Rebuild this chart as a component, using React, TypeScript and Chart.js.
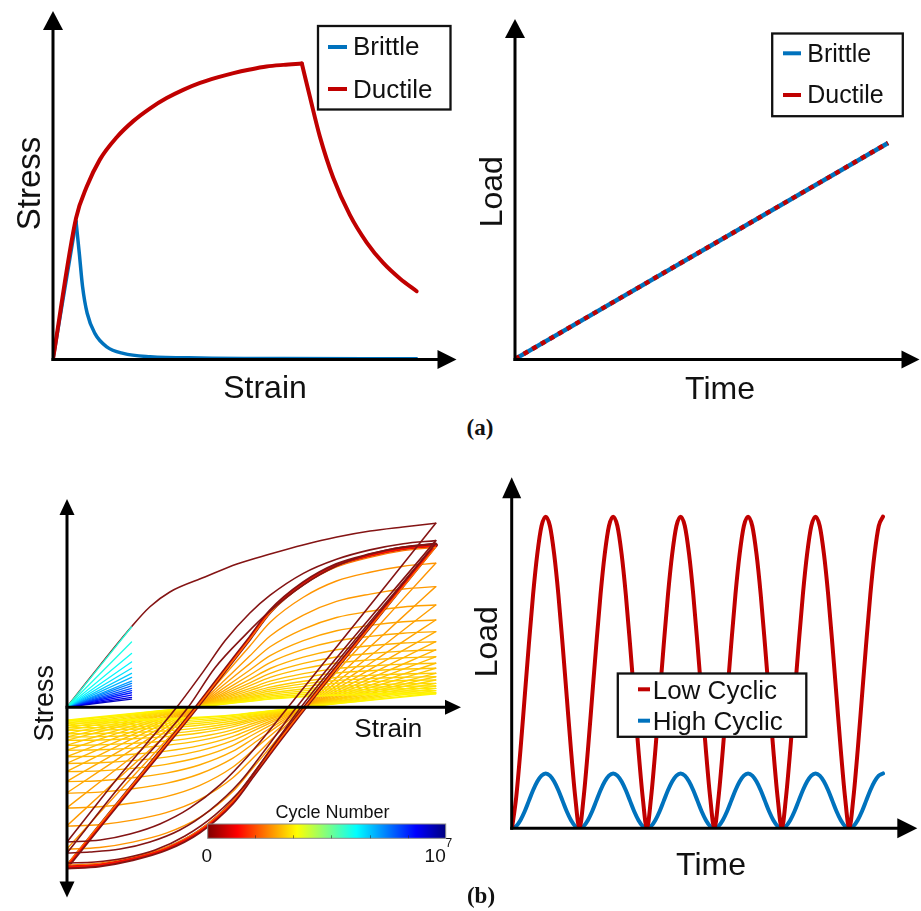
import React, { useEffect, useRef } from "react";
import { Chart, registerables } from "chart.js";

Chart.register(...registerables);

const SANS = '"Liberation Sans", Arial, Helvetica, sans-serif';
const SERIF = '"Liberation Serif", "Times New Roman", serif';
const RED = "#C00000";
const BLUE = "#0072BD";
const DARK_RED = "rgb(132,20,20)";

/* ---------------- (a) left : stress vs strain ---------------- */
const ductileStrain = [0, 6.0, 8.8, 12.2, 16.6, 20.9, 25.3, 29.6, 33.9, 38.3, 42.6, 47.0, 51.3, 55.6, 60.0, 64.8, 66.9, 69.5, 73.0, 77.3, 81.7, 86.0, 90.4, 94.7];
const ductileStress = [0, 42.8, 52.4, 60.6, 67.4, 72.3, 76.2, 79.3, 81.8, 83.9, 85.5, 86.9, 88.0, 88.9, 89.4, 89.8, 79.7, 67.6, 55.0, 43.8, 35.4, 29.2, 24.4, 20.6];
const ductileUltimateIndex = 15;
const brittleStrain = [0, 6.0, 6.85, 7.7, 8.9, 10.9, 14.0, 18.3, 25.3, 38.3, 60.0, 94.7];
const brittleStress = [0, 41.8, 32.1, 22.0, 13.9, 7.8, 3.7, 1.7, 0.7, 0.3, 0.15, 0.1];
const brittleFractureIndex = 1;

/* ---------------- (a) right : load vs time ---------------- */
const rampTime = [0, 96.4];
const rampLoad = [0, 67.3];

/* ---------------- (b) right : cyclic load ---------------- */
const samplesPerCycle = 16;
const lowCyclicLoad = [
  0, 10, 25, 42, 59, 75, 88, 97, 100, 97, 88, 75, 59, 42, 25, 10,
  0, 10, 25, 42, 59, 75, 88, 97, 100, 97, 88, 75, 59, 42, 25, 10,
  0, 10, 25, 42, 59, 75, 88, 97, 100, 97, 88, 75, 59, 42, 25, 10,
  0, 10, 25, 42, 59, 75, 88, 97, 100, 97, 88, 75, 59, 42, 25, 10,
  0, 10, 25, 42, 59, 75, 88, 97, 100, 97, 88, 75, 59, 42, 25, 10,
  0, 10, 25, 42, 59, 75, 88, 97, 100,
];
const highCyclicLoad = [
  0, 0.7, 2.6, 5.4, 8.8, 12.2, 15.0, 16.9, 17.6, 16.9, 15.0, 12.2, 8.8, 5.4, 2.6, 0.7,
  0, 0.7, 2.6, 5.4, 8.8, 12.2, 15.0, 16.9, 17.6, 16.9, 15.0, 12.2, 8.8, 5.4, 2.6, 0.7,
  0, 0.7, 2.6, 5.4, 8.8, 12.2, 15.0, 16.9, 17.6, 16.9, 15.0, 12.2, 8.8, 5.4, 2.6, 0.7,
  0, 0.7, 2.6, 5.4, 8.8, 12.2, 15.0, 16.9, 17.6, 16.9, 15.0, 12.2, 8.8, 5.4, 2.6, 0.7,
  0, 0.7, 2.6, 5.4, 8.8, 12.2, 15.0, 16.9, 17.6, 16.9, 15.0, 12.2, 8.8, 5.4, 2.6, 0.7,
  0, 0.7, 2.6, 5.4, 8.8, 12.2, 15.0, 16.9, 17.6,
];

/* ---------------- (b) left : hysteresis loops ---------------- */
// stabilised loop (normalised strain / stress)
const loopLoadStrain = [0, 0.089, 0.171, 0.252, 0.352, 0.428, 0.496, 0.551, 0.641, 0.731, 0.822, 0.912, 1.0];
const loopLoadStress = [-0.986, -0.735, -0.505, -0.28, 0, 0.225, 0.425, 0.59, 0.764, 0.877, 0.938, 0.98, 1.0];
const loopUnloadStrain = [0, 0.088, 0.178, 0.269, 0.359, 0.449, 0.504, 0.578, 0.646, 0.741, 0.822, 0.903, 1.0];
const loopUnloadStress = [-0.99, -0.978, -0.94, -0.878, -0.77, -0.59, -0.425, -0.2, 0, 0.272, 0.5, 0.728, 1.0];
// peak stress of later (softened) cycles relative to the stabilised loop
const softenedAmplitudes = [0.887, 0.743, 0.63, 0.537, 0.465, 0.403, 0.352, 0.31, 0.27, 0.239, 0.208, 0.187, 0.167, 0.146, 0.13, 0.115, 0.101, 0.088, 0.082];
const bandAmplitudes = [1.0, 0.995, 0.985];
// first cycles
const firstLoadStrain = [0, 0.175, 0.225, 0.279, 0.374, 0.461, 0.551, 0.64, 0.732, 0.822, 0.911, 1.0];
const firstLoadStress = [0, 0.496, 0.619, 0.71, 0.802, 0.883, 0.944, 1.0, 1.049, 1.086, 1.111, 1.134];
const firstUnloadStrain = [0, 0.09, 0.171, 0.252, 0.334, 0.415, 0.496, 0.6, 1.0];
const firstUnloadStress = [-0.833, -0.821, -0.784, -0.722, -0.623, -0.481, -0.29, 0, 1.134];
const secondLoadStrain = [0, 0.144, 0.298, 0.37, 0.429, 0.496, 0.551, 0.641, 0.731, 0.822, 0.912, 1.0];
const secondLoadStress = [-0.833, -0.42, 0, 0.22, 0.41, 0.58, 0.69, 0.825, 0.912, 0.97, 1.008, 1.027];
const secondUnloadStrain = [0, 0.062, 0.144, 0.225, 0.306, 0.388, 0.469, 0.537, 0.623, 1.0];
const secondUnloadStress = [-0.901, -0.895, -0.877, -0.833, -0.759, -0.636, -0.463, -0.265, 0, 1.027];
const thirdLoadStrain = [0, 0.144, 0.329, 0.401, 0.483, 0.551, 0.641, 0.731, 0.822, 0.912, 1.0];
const thirdLoadStress = [-0.901, -0.488, 0, 0.241, 0.444, 0.593, 0.753, 0.87, 0.944, 0.988, 1.01];
const thirdUnloadStrain = [0, 0.076, 0.157, 0.239, 0.32, 0.401, 0.483, 0.551, 0.635, 1.0];
const thirdUnloadStress = [-0.963, -0.957, -0.932, -0.883, -0.796, -0.667, -0.481, -0.265, 0, 1.01];
// high-cycle elastic responses
const fanTipStrain = 0.175;
const fanTipStress = [0.494, 0.401, 0.331, 0.278, 0.239, 0.208, 0.183, 0.16, 0.146, 0.13, 0.115, 0.101, 0.088, 0.074, 0.06, 0.048];

/* ---------------- helpers ---------------- */
type XY = { x: number; y: number };
const pts = (xs: number[], ys: number[], k = 1): XY[] => xs.map((x, i) => ({ x, y: ys[i] * k }));

function jet(v: number): string {
  const c = (t: number) => Math.round(255 * Math.max(0, Math.min(1, t)));
  return `rgb(${c(1.5 - Math.abs(4 * v - 3))},${c(1.5 - Math.abs(4 * v - 2))},${c(1.5 - Math.abs(4 * v - 1))})`;
}

function lineDs(data: XY[], color: string, width: number, extra: any = {}) {
  return {
    data,
    borderColor: color,
    backgroundColor: color,
    borderWidth: width,
    pointRadius: 0,
    fill: false,
    tension: 0.4,
    cubicInterpolationMode: "monotone",
    borderCapStyle: "round",
    borderJoinStyle: "round",
    ...extra,
  };
}

function withOrder(list: any[]) {
  // later entries are drawn on top
  return list.map((d, i) => ({ ...d, order: list.length - i }));
}

function arrow(ctx: CanvasRenderingContext2D, x1: number, y1: number, x2: number, y2: number, head: number, half: number, lw = 3) {
  const dx = x2 - x1, dy = y2 - y1;
  const len = Math.hypot(dx, dy);
  const ux = dx / len, uy = dy / len;
  const bx = x2 - ux * head, by = y2 - uy * head;
  ctx.beginPath();
  ctx.moveTo(x1, y1);
  ctx.lineTo(bx + ux, by + uy);
  ctx.lineWidth = lw;
  ctx.strokeStyle = "#000";
  ctx.lineCap = "butt";
  ctx.setLineDash([]);
  ctx.stroke();
  ctx.beginPath();
  ctx.moveTo(x2, y2);
  ctx.lineTo(bx - uy * half, by + ux * half);
  ctx.lineTo(bx + uy * half, by - ux * half);
  ctx.closePath();
  ctx.fillStyle = "#000";
  ctx.fill();
}

function hText(ctx: CanvasRenderingContext2D, s: string, x: number, baseline: number, size: number, align: CanvasTextAlign = "center", family = SANS, weight = "normal") {
  ctx.font = `${weight} ${size}px ${family}`;
  ctx.fillStyle = "#111";
  ctx.textAlign = align;
  ctx.textBaseline = "alphabetic";
  ctx.fillText(s, x, baseline);
}

function vText(ctx: CanvasRenderingContext2D, s: string, baselineX: number, centerY: number, size: number) {
  ctx.save();
  ctx.translate(baselineX, centerY);
  ctx.rotate(-Math.PI / 2);
  ctx.font = `${size}px ${SANS}`;
  ctx.fillStyle = "#111";
  ctx.textAlign = "center";
  ctx.textBaseline = "alphabetic";
  ctx.fillText(s, 0, 0);
  ctx.restore();
}

function legendBox(ctx: CanvasRenderingContext2D, l: number, t: number, r: number, b: number) {
  ctx.fillStyle = "#fff";
  ctx.fillRect(l, t, r - l, b - t);
  ctx.lineWidth = 2.3;
  ctx.strokeStyle = "#111";
  ctx.setLineDash([]);
  ctx.strokeRect(l, t, r - l, b - t);
}

function legendItem(ctx: CanvasRenderingContext2D, x1: number, x2: number, y: number, color: string, label: string, tx: number, baseline: number, size: number) {
  ctx.beginPath();
  ctx.moveTo(x1, y);
  ctx.lineTo(x2, y);
  ctx.lineWidth = 4;
  ctx.lineCap = "butt";
  ctx.strokeStyle = color;
  ctx.stroke();
  hText(ctx, label, tx, baseline, size, "left");
}

type Spec = {
  left: number;
  top: number;
  width: number;
  height: number;
  area: { left: number; top: number; right: number; bottom: number };
  x: [number, number];
  y: [number, number];
  datasets: () => any[];
  decor: (ctx: CanvasRenderingContext2D) => void;
};

function buildConfig(spec: Spec): any {
  const decor = {
    id: "decor",
    afterDraw(chart: any) {
      const ctx = chart.ctx as CanvasRenderingContext2D;
      ctx.save();
      ctx.translate(-spec.left, -spec.top);
      spec.decor(ctx);
      ctx.restore();
    },
  };
  return {
    type: "line",
    data: { datasets: withOrder(spec.datasets()) },
    options: {
      responsive: false,
      maintainAspectRatio: false,
      animation: false,
      devicePixelRatio: 1,
      events: [],
      layout: {
        padding: {
          left: spec.area.left - spec.left,
          top: spec.area.top - spec.top,
          right: spec.left + spec.width - spec.area.right,
          bottom: spec.top + spec.height - spec.area.bottom,
        },
      },
      plugins: { legend: { display: false }, tooltip: { enabled: false }, title: { display: false } },
      scales: {
        x: { type: "linear", min: spec.x[0], max: spec.x[1], display: false },
        y: { type: "linear", min: spec.y[0], max: spec.y[1], display: false },
      },
    },
    plugins: [decor],
  };
}

/* ---------------- panel specs ---------------- */
const panelA1: Spec = {
  left: 0, top: 0, width: 460, height: 410,
  area: { left: 53, top: 30, right: 437, bottom: 359 },
  x: [0, 100], y: [0, 100],
  datasets: () => {
    const dRise = pts(ductileStrain.slice(0, ductileUltimateIndex + 1), ductileStress.slice(0, ductileUltimateIndex + 1));
    const dFall = pts(ductileStrain.slice(ductileUltimateIndex), ductileStress.slice(ductileUltimateIndex));
    const bRise = pts(brittleStrain.slice(0, brittleFractureIndex + 1), brittleStress.slice(0, brittleFractureIndex + 1));
    const bFall = pts(brittleStrain.slice(brittleFractureIndex), brittleStress.slice(brittleFractureIndex));
    return [
      lineDs(bRise, BLUE, 3.5, { tension: 0, cubicInterpolationMode: "default" }),
      lineDs(bFall, BLUE, 3.5),
      lineDs(dRise, RED, 4),
      lineDs(dFall, RED, 4),
    ];
  },
  decor: (ctx) => {
    arrow(ctx, 53, 361, 53, 11, 19, 10);
    arrow(ctx, 51.5, 359.5, 456.5, 359.5, 19, 9.5);
    vText(ctx, "Stress", 40, 183.5, 33);
    hText(ctx, "Strain", 265, 398, 32);
    legendBox(ctx, 318, 26, 450.5, 109.5);
    legendItem(ctx, 328, 347, 47, BLUE, "Brittle", 353, 55, 26);
    legendItem(ctx, 328, 347, 89, RED, "Ductile", 353, 97.5, 26);
  },
};

const panelA2: Spec = {
  left: 460, top: 0, width: 461, height: 410,
  area: { left: 515, top: 38, right: 902, bottom: 359 },
  x: [0, 100], y: [0, 100],
  datasets: () => [
    lineDs(pts(rampTime, rampLoad), BLUE, 4.5, { tension: 0, cubicInterpolationMode: "default", borderCapStyle: "butt" }),
    lineDs(pts(rampTime, rampLoad), RED, 4.5, { tension: 0, cubicInterpolationMode: "default", borderCapStyle: "butt", borderDash: [5, 5] }),
  ],
  decor: (ctx) => {
    arrow(ctx, 515, 361, 515, 19, 19, 10);
    arrow(ctx, 513.5, 359.5, 919.5, 359.5, 18, 9);
    vText(ctx, "Load", 501.5, 191.7, 32);
    hText(ctx, "Time", 720, 399, 32);
    legendBox(ctx, 772.2, 33.5, 902.8, 116.2);
    legendItem(ctx, 783, 801, 53.3, BLUE, "Brittle", 807.3, 61.7, 25);
    legendItem(ctx, 783, 801, 95, RED, "Ductile", 807.3, 103.3, 25);
  },
};

const panelB1: Spec = {
  left: 0, top: 470, width: 462, height: 441,
  area: { left: 67, top: 515, right: 445, bottom: 882 },
  x: [0, 1.0252], y: [-1.0802, 1.1852],
  datasets: () => {
    const list: any[] = [];
    const n = softenedAmplitudes.length;
    softenedAmplitudes.forEach((k, j) => {
      const c = jet(0.73 - (0.73 - 0.635) * (j / (n - 1)));
      list.push(lineDs(pts(loopLoadStrain, loopLoadStress, k), c, 1.4));
      list.push(lineDs(pts(loopUnloadStrain, loopUnloadStress, k), c, 1.4));
    });
    const bandStyle = [
      [DARK_RED, 4],
      [jet(0.86), 1.6],
      [jet(0.76), 1.2],
    ] as const;
    bandAmplitudes.forEach((k, j) => {
      list.push(lineDs(pts(loopLoadStrain, loopLoadStress, k), bandStyle[j][0], bandStyle[j][1]));
      list.push(lineDs(pts(loopUnloadStrain, loopUnloadStress, k), bandStyle[j][0], bandStyle[j][1]));
    });
    list.push(lineDs(pts(thirdLoadStrain, thirdLoadStress), DARK_RED, 1.6));
    list.push(lineDs(pts(thirdUnloadStrain, thirdUnloadStress), DARK_RED, 1.6));
    list.push(lineDs(pts(secondLoadStrain, secondLoadStress), DARK_RED, 1.6));
    list.push(lineDs(pts(secondUnloadStrain, secondUnloadStress), DARK_RED, 1.6));
    list.push(lineDs(pts(firstUnloadStrain, firstUnloadStress), DARK_RED, 1.6));
    list.push(lineDs(pts(firstLoadStrain, firstLoadStress), DARK_RED, 1.6));
    const m = fanTipStress.length;
    for (let j = m - 1; j >= 0; j--) {
      const c = jet(0.41 - (0.41 - 0.06) * Math.pow(j / (m - 1), 1.3));
      list.push(lineDs(pts([0, fanTipStrain], [0, fanTipStress[j]]), c, 1.3, { tension: 0, cubicInterpolationMode: "default" }));
    }
    return list;
  },
  decor: (ctx) => {
    arrow(ctx, 67, 707.3, 67, 499, 16, 7.5);
    arrow(ctx, 67, 707.3, 67, 897.5, 16, 7.5);
    arrow(ctx, 65.5, 707.3, 461, 707.3, 16, 7.5);
    vText(ctx, "Stress", 53, 703.3, 27);
    hText(ctx, "Strain", 388.3, 736.7, 26);
    // colour bar
    const l = 207.7, r = 445.7, t = 824, b = 838.3;
    const g = ctx.createLinearGradient(l, 0, r, 0);
    for (let i = 0; i <= 8; i++) g.addColorStop(i / 8, jet(1 - i / 8));
    ctx.fillStyle = g;
    ctx.fillRect(l, t, r - l, b - t);
    ctx.lineWidth = 1;
    ctx.strokeStyle = "#8a8a8a";
    ctx.strokeRect(l, t, r - l, b - t);
    ctx.strokeStyle = "rgba(40,40,40,0.55)";
    [0.2, 0.36, 0.52, 0.68, 0.84].forEach((p) => {
      const x = Math.round(l + p * (r - l)) + 0.5;
      ctx.beginPath();
      ctx.moveTo(x, b - 3);
      ctx.lineTo(x, b);
      ctx.stroke();
    });
    hText(ctx, "Cycle Number", 332.5, 818, 18);
    hText(ctx, "0", 206.7, 861.5, 19);
    hText(ctx, "10", 445.7, 861.5, 19, "right");
    hText(ctx, "7", 445.5, 846.5, 12, "left");
  },
};

const panelB2: Spec = {
  left: 460, top: 470, width: 461, height: 441,
  area: { left: 512, top: 498, right: 897, bottom: 828.3 },
  x: [0, 5.708], y: [0, 106],
  datasets: () => [
    lineDs(highCyclicLoad.map((v, i) => ({ x: i / samplesPerCycle, y: v })), BLUE, 4),
    lineDs(lowCyclicLoad.map((v, i) => ({ x: i / samplesPerCycle, y: v })), RED, 4),
  ],
  decor: (ctx) => {
    arrow(ctx, 511.7, 829.8, 511.7, 477.3, 21, 9.5);
    arrow(ctx, 510.2, 828.3, 917.3, 828.3, 20, 10);
    vText(ctx, "Load", 497.3, 641.7, 32);
    hText(ctx, "Time", 711, 875, 32);
    legendBox(ctx, 617.8, 673.5, 806.3, 736.8);
    legendItem(ctx, 638, 650, 689.3, RED, "Low Cyclic", 652.7, 699, 26);
    legendItem(ctx, 638, 650, 720.7, BLUE, "High Cyclic", 652.7, 729.5, 26);
  },
};

function ChartCanvas({ spec }: { spec: Spec }) {
  const ref = useRef<HTMLCanvasElement | null>(null);
  useEffect(() => {
    if (!ref.current) return;
    const chart = new Chart(ref.current, buildConfig(spec));
    return () => chart.destroy();
  }, [spec]);
  return (
    <canvas
      ref={ref}
      width={spec.width}
      height={spec.height}
      style={{ position: "absolute", left: spec.left, top: spec.top, width: spec.width, height: spec.height }}
    />
  );
}

const tag: React.CSSProperties = {
  position: "absolute",
  transform: "translate(-50%, -50%)",
  font: `bold 23px ${SERIF}`,
  lineHeight: 1,
  color: "#111",
  whiteSpace: "nowrap",
};

export default function App() {
  return (
    <div style={{ position: "absolute", left: 0, top: 0, width: 921, height: 911, background: "#fff", overflow: "hidden" }}>
      <ChartCanvas spec={panelA1} />
      <ChartCanvas spec={panelA2} />
      <ChartCanvas spec={panelB1} />
      <ChartCanvas spec={panelB2} />
      <div style={{ ...tag, left: 480, top: 427 }}>(a)</div>
      <div style={{ ...tag, left: 481, top: 895 }}>(b)</div>
    </div>
  );
}
